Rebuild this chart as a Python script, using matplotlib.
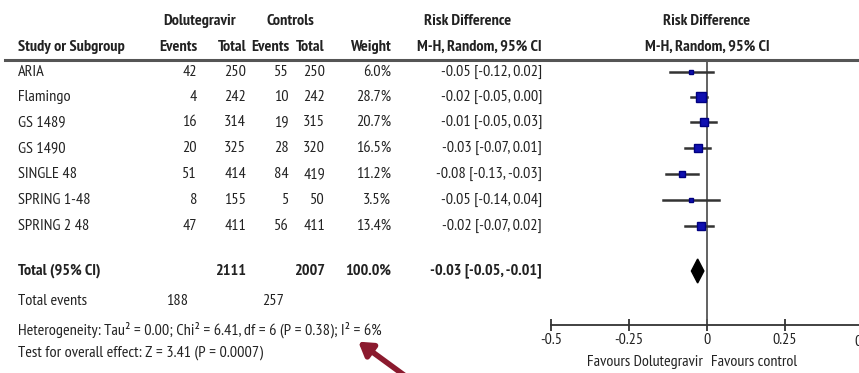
import numpy as np
import matplotlib.pyplot as plt
from matplotlib.lines import Line2D

# ---- data ----
studies = ['ARIA', 'Flamingo', 'GS 1489', 'GS 1490', 'SINGLE 48', 'SPRING 1-48', 'SPRING 2 48']
dolu_events = [42, 4, 16, 20, 51, 8, 47]
dolu_total = [250, 242, 314, 325, 414, 155, 411]
ctrl_events = [55, 10, 19, 28, 84, 5, 56]
ctrl_total = [250, 242, 315, 320, 419, 50, 411]
weights = [6.0, 28.7, 20.7, 16.5, 11.2, 3.5, 13.4]
rd = [-0.05, -0.02, -0.01, -0.03, -0.08, -0.05, -0.02]
ci_low = [-0.12, -0.05, -0.05, -0.07, -0.13, -0.14, -0.07]
ci_high = [0.02, 0.00, 0.03, 0.01, -0.03, 0.04, 0.02]

total_dolu = 2111
total_ctrl = 2007
events_dolu = 188
events_ctrl = 257
pooled = -0.03
pooled_low = -0.05
pooled_high = -0.01
xticks = [-0.5, -0.25, 0, 0.25, 0.5]
xticklabels = ['-0.5', '-0.25', '0', '0.25', '0.5']

plt.rcParams['font.family'] = ['PT Sans Narrow', 'DejaVu Sans']

W, H = 859, 373
fig = plt.figure(figsize=(W / 100, H / 100), dpi=100)
bg = fig.add_axes([0, 0, 1, 1])
bg.set_xlim(0, W)
bg.set_ylim(H, 0)
bg.axis('off')

fs = 11.7
txt = '#222222'
row_y = [72, 97, 122, 148, 174, 200, 226]


def t(x, y, s, ha='left', bold=False, size=fs):
    bg.text(x, y, s, ha=ha, va='center', fontsize=size, color=txt,
            fontweight='bold' if bold else 'normal')


# headers
t(200, 21, 'Dolutegravir', ha='center', bold=True)
t(290, 21, 'Controls', ha='center', bold=True)
t(468, 21, 'Risk Difference', ha='center', bold=True)
t(707, 21, 'Risk Difference', ha='center', bold=True)
t(18, 47, 'Study or Subgroup', bold=True)
t(197, 47, 'Events', ha='right', bold=True)
t(246, 47, 'Total', ha='right', bold=True)
t(289, 47, 'Events', ha='right', bold=True)
t(325, 47, 'Total', ha='right', bold=True)
t(391, 47, 'Weight', ha='right', bold=True)
t(542, 47, 'M-H, Random, 95% CI', ha='right', bold=True)
t(707, 47, 'M-H, Random, 95% CI', ha='center', bold=True)

bg.add_line(Line2D([5, W], [60, 60], color='#555555', lw=2.2))

for i, s in enumerate(studies):
    y = row_y[i]
    t(18, y, s)
    t(197, y, str(dolu_events[i]), ha='right')
    t(246, y, str(dolu_total[i]), ha='right')
    t(289, y, str(ctrl_events[i]), ha='right')
    t(325, y, str(ctrl_total[i]), ha='right')
    t(391, y, '%.1f%%' % weights[i], ha='right')
    t(542, y, '%.2f [%.2f, %.2f]' % (rd[i], ci_low[i], ci_high[i]), ha='right')

t(18, 271, 'Total (95% CI)', bold=True)
t(246, 271, str(total_dolu), ha='right', bold=True)
t(325, 271, str(total_ctrl), ha='right', bold=True)
t(391, 271, '100.0%', ha='right', bold=True)
t(542, 271, '%.2f [%.2f, %.2f]' % (pooled, pooled_low, pooled_high), ha='right', bold=True)
t(18, 301, 'Total events')
t(188, 301, str(events_dolu), ha='right')
t(284, 301, str(events_ctrl), ha='right')
t(18, 330, 'Heterogeneity: Tau² = 0.00; Chi² = 6.41, df = 6 (P = 0.38); I² = 6%')
t(18, 353, 'Test for overall effect: Z = 3.41 (P = 0.0007)')

bg.annotate('', xy=(356, 340), xytext=(408, 378),
            arrowprops=dict(arrowstyle='-|>,head_width=0.5,head_length=0.8',
                            color='#8b1a2e', lw=4))

# ---- forest panel ----
px = 0.5 / 156.0
left_px, bottom_px, top_px = 551, 325, 60
ax = fig.add_axes([left_px / W, 1 - bottom_px / H, (W - left_px) / W, (bottom_px - top_px) / H])
ax.set_xlim(-0.5, (W - 707) * px)
ax.set_ylim(bottom_px, top_px)
ax.patch.set_alpha(0)
for sp in ['top', 'right', 'left']:
    ax.spines[sp].set_visible(False)
ax.spines['bottom'].set_color('#333333')
ax.spines['bottom'].set_linewidth(1.3)
ax.set_yticks([])
ax.set_xticks(xticks[:-1])
ax.set_xticklabels(xticklabels[:-1])
ax.tick_params(axis='x', direction='inout', length=9, width=1.3, color='#333333',
               labelsize=11.5, labelcolor=txt, pad=1)
ax.text(0.5, bottom_px + 17, xticklabels[-1], ha='center', va='center', fontsize=11.5,
        color=txt, clip_on=False)
ax.axvline(0, color='#555555', lw=1.3)

for i in range(len(studies)):
    y = row_y[i]
    ax.plot([ci_low[i], ci_high[i]], [y, y], color='#333333', lw=1.8, clip_on=False)
    ax.plot(rd[i], y, marker='s', ms=1.4 * np.sqrt(weights[i]), color='#1010b0',
            mec='#000080', clip_on=False)

dx = [pooled_low, pooled, pooled_high, pooled]
dy = [271, 259, 271, 283]
ax.fill(dx, dy, color='black', clip_on=False)

ax.text(-0.012, bottom_px + 37, 'Favours Dolutegravir', ha='right', va='center',
        fontsize=11.5, color=txt, clip_on=False)
ax.text(0.012, bottom_px + 37, 'Favours control', ha='left', va='center',
        fontsize=11.5, color=txt, clip_on=False)

fig.savefig('out.png', dpi=100)
